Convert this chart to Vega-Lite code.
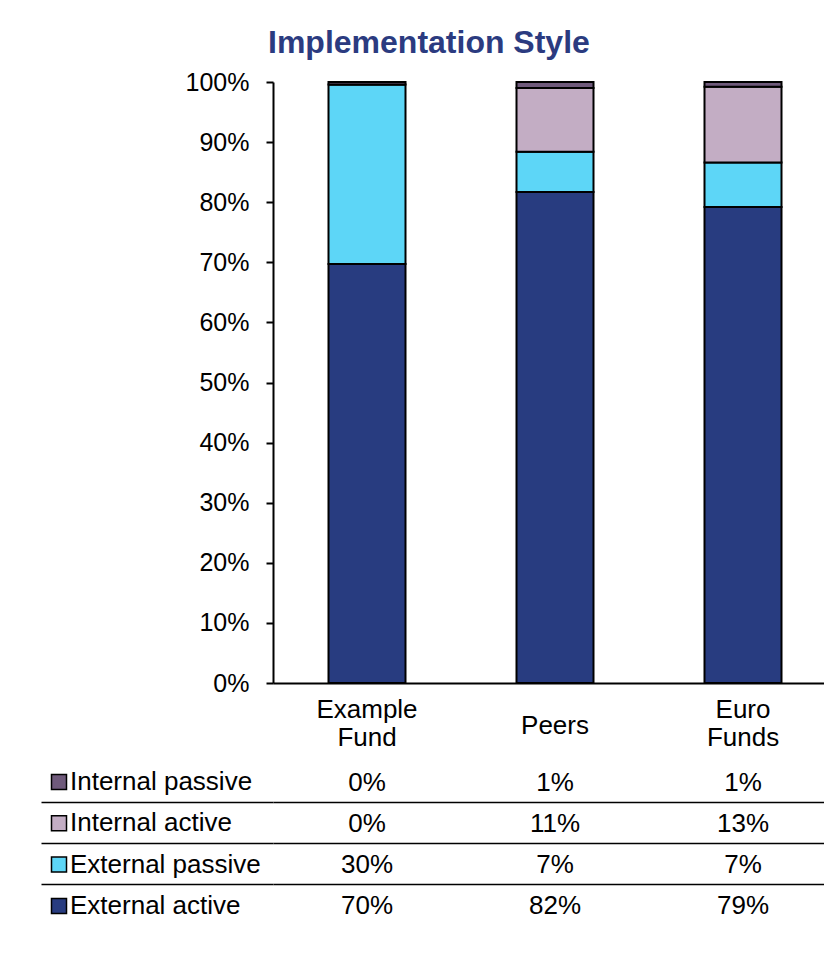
{
  "$schema": "https://vega.github.io/schema/vega-lite/v6.json",
  "padding": {"left": 40, "top": 27, "right": 0, "bottom": 0},
  "background": "white",
  "config": {
    "font": "Liberation Sans",
    "view": {"stroke": null},
    "axis": {"labelColor": "black", "labelFont": "Liberation Sans"}
  },
  "data": {
    "values": [
      {"group": "Example Fund", "series": "External active", "value": 0.697},
      {"group": "Example Fund", "series": "External passive", "value": 0.299},
      {"group": "Example Fund", "series": "Internal active", "value": 0.0},
      {"group": "Example Fund", "series": "Internal passive", "value": 0.004},
      {"group": "Peers", "series": "External active", "value": 0.817},
      {"group": "Peers", "series": "External passive", "value": 0.067},
      {"group": "Peers", "series": "Internal active", "value": 0.106},
      {"group": "Peers", "series": "Internal passive", "value": 0.010},
      {"group": "Euro Funds", "series": "External active", "value": 0.792},
      {"group": "Euro Funds", "series": "External passive", "value": 0.074},
      {"group": "Euro Funds", "series": "Internal active", "value": 0.126},
      {"group": "Euro Funds", "series": "Internal passive", "value": 0.008}
    ]
  },
  "spacing": 12,
  "vconcat": [
    {
      "width": 564,
      "height": 601,
      "title": {
        "text": "Implementation Style",
        "fontSize": 32,
        "fontWeight": "bold",
        "color": "#2B3B80",
        "anchor": "start",
        "frame": "group",
        "dx": -5,
        "baseline": "alphabetic",
        "offset": -15
      },
      "mark": {"type": "bar", "stroke": "black", "strokeWidth": 2, "size": 77},
      "encoding": {
        "x": {
          "field": "group",
          "type": "nominal",
          "sort": ["Example Fund", "Peers", "Euro Funds"],
          "scale": {"paddingInner": 0, "paddingOuter": 0},
          "axis": {
            "title": null,
            "labelAngle": 0,
            "ticks": false,
            "domainColor": "black",
            "domainWidth": 2,
            "labelFontSize": 26,
            "labelBaseline": "middle",
            "labelPadding": {"condition": {"test": "datum.value === 'Peers'", "value": 42}, "value": 26},
            "labelLineHeight": 28,
            "labelExpr": "split(datum.label, ' ')"
          }
        },
        "y": {
          "field": "value",
          "type": "quantitative",
          "stack": "zero",
          "scale": {"domain": [0, 1], "nice": false},
          "axis": {
            "title": null,
            "grid": false,
            "values": [0, 0.1, 0.2, 0.3, 0.4, 0.5, 0.6, 0.7, 0.8, 0.9, 1],
            "format": ".0%",
            "labelFontSize": 25,
            "labelPadding": 17,
            "tickSize": 7,
            "tickWidth": 2,
            "tickColor": "black",
            "domainColor": "black",
            "domainWidth": 2
          }
        },
        "color": {
          "field": "series",
          "type": "nominal",
          "scale": {
            "domain": ["Internal passive", "Internal active", "External passive", "External active"],
            "range": ["#6F5A7B", "#C3ADC4", "#5DD6F7", "#283C80"]
          },
          "legend": {
            "orient": "none",
            "legendX": -227,
            "legendY": 687,
            "title": null,
            "symbolType": "square",
            "symbolSize": 225,
            "symbolStrokeColor": "black",
            "symbolStrokeWidth": 1.5,
            "symbolOpacity": 1,
            "labelFontSize": 26,
            "labelColor": "black",
            "labelOffset": -2,
            "labelLimit": 400,
            "rowPadding": 15.3
          }
        },
        "order": {"field": "series", "sort": "ascending"}
      }
    },
    {
      "width": 564,
      "height": 165,
      "mark": {"type": "text", "fontSize": 26, "baseline": "middle", "color": "black"},
      "encoding": {
        "x": {
          "field": "group",
          "type": "nominal",
          "sort": ["Example Fund", "Peers", "Euro Funds"],
          "scale": {"paddingInner": 0, "paddingOuter": 0},
          "axis": null
        },
        "y": {
          "field": "series",
          "type": "nominal",
          "sort": ["Internal passive", "Internal active", "External passive", "External active"],
          "scale": {"paddingInner": 0, "paddingOuter": 0},
          "axis": {
            "title": null,
            "labels": false,
            "domain": false,
            "tickOffset": 19,
            "values": ["Internal passive", "Internal active", "External passive"],
            "tickSize": 232,
            "tickColor": "black",
            "tickWidth": 1.5,
            "grid": true,
            "gridColor": "black",
            "gridWidth": 1.5,
            "gridOpacity": 1
          }
        },
        "text": {"field": "value", "type": "quantitative", "format": ".0%"}
      }
    }
  ]
}
